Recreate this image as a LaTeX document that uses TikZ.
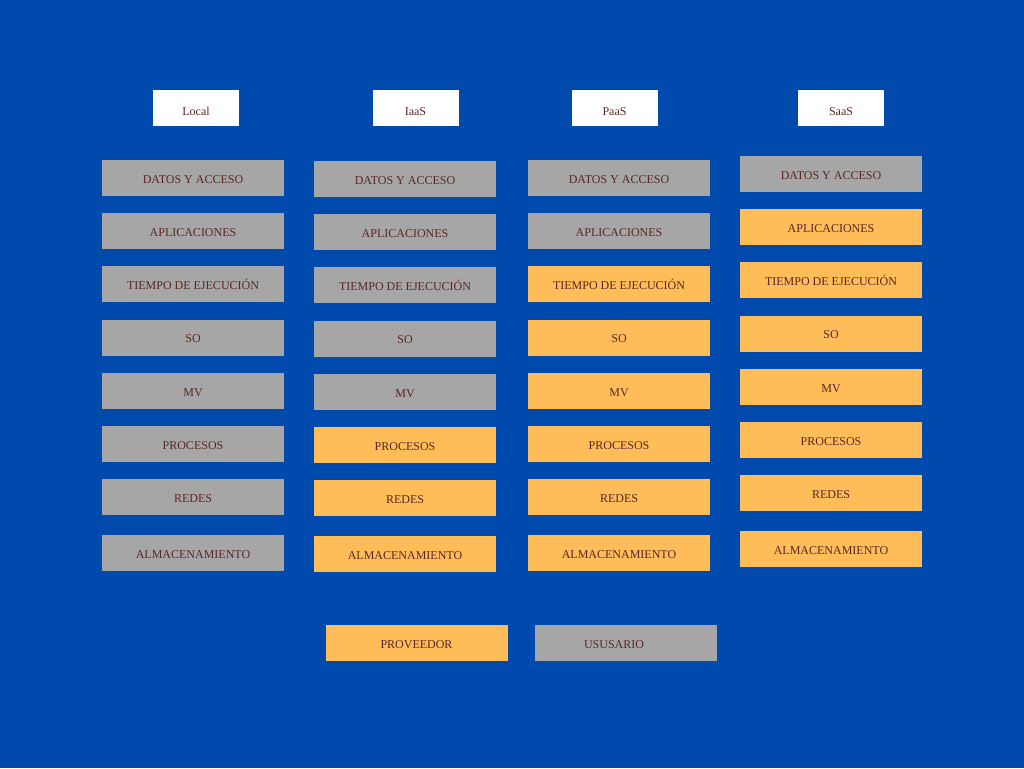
\documentclass[tikz,border=0pt]{standalone}
\usepackage{fontspec}
\setmainfont{Liberation Serif}
\definecolor{bgblue}{HTML}{004AAD}
\definecolor{cellgray}{HTML}{A6A6A6}
\definecolor{cellorange}{HTML}{FFBD59}
\definecolor{inkred}{HTML}{5A2626}
\tikzset{
  cell/.style={rectangle, inner sep=0pt, minimum width=182pt, minimum height=36pt,
    text height=10pt, text depth=0pt,
    text=inkred, font=\fontsize{12}{14}\selectfont},
  usr/.style={cell, fill=cellgray},
  prov/.style={cell, fill=cellorange},
  head/.style={rectangle, inner sep=0pt, minimum width=86pt, minimum height=36pt,
    text height=14.5pt, text depth=0pt,
    fill=white, text=inkred, font=\fontsize{12}{14}\selectfont},
}
% \cellat{name}{x}{y}{style}{label}
\newcommand{\cellat}[5]{\node[#4] (#1) at (#2,#3) {#5};}
\begin{document}
\begin{tikzpicture}[x=1pt,y=-1pt]
\fill[bgblue] (0,0) rectangle (1024,768);
\useasboundingbox (0,0) rectangle (1024,768);

% column headers
\node[head] (hLocal) at (196,108) {Local};
\node[head] (hIaaS) at (415.5,108) {IaaS};
\node[head] (hPaaS) at (614.5,108) {PaaS};
\node[head] (hSaaS) at (841,108) {SaaS};

% Local
\cellat{l1}{193}{178}{usr}{DATOS Y ACCESO}
\cellat{l2}{193}{231}{usr}{APLICACIONES}
\cellat{l3}{193}{284}{usr}{TIEMPO DE EJECUCIÓN}
\cellat{l4}{193}{337.5}{usr}{SO}
\cellat{l5}{193}{391}{usr}{MV}
\cellat{l6}{193}{444}{usr}{PROCESOS}
\cellat{l7}{193}{497}{usr}{REDES}
\cellat{l8}{193}{553}{usr}{ALMACENAMIENTO}

% IaaS
\cellat{i1}{405}{179}{usr}{DATOS Y ACCESO}
\cellat{i2}{405}{232}{usr}{APLICACIONES}
\cellat{i3}{405}{285}{usr}{TIEMPO DE EJECUCIÓN}
\cellat{i4}{405}{338.5}{usr}{SO}
\cellat{i5}{405}{392}{usr}{MV}
\cellat{i6}{405}{445}{prov}{PROCESOS}
\cellat{i7}{405}{498}{prov}{REDES}
\cellat{i8}{405}{554}{prov}{ALMACENAMIENTO}

% PaaS
\cellat{p1}{619}{178}{usr}{DATOS Y ACCESO}
\cellat{p2}{619}{231}{usr}{APLICACIONES}
\cellat{p3}{619}{284}{prov}{TIEMPO DE EJECUCIÓN}
\cellat{p4}{619}{337.5}{prov}{SO}
\cellat{p5}{619}{391}{prov}{MV}
\cellat{p6}{619}{444}{prov}{PROCESOS}
\cellat{p7}{619}{497}{prov}{REDES}
\cellat{p8}{619}{553}{prov}{ALMACENAMIENTO}

% SaaS
\cellat{s1}{831}{174}{usr}{DATOS Y ACCESO}
\cellat{s2}{831}{227}{prov}{APLICACIONES}
\cellat{s3}{831}{280}{prov}{TIEMPO DE EJECUCIÓN}
\cellat{s4}{831}{333.5}{prov}{SO}
\cellat{s5}{831}{387}{prov}{MV}
\cellat{s6}{831}{440}{prov}{PROCESOS}
\cellat{s7}{831}{493}{prov}{REDES}
\cellat{s8}{831}{549}{prov}{ALMACENAMIENTO}

% legend
\cellat{keyProv}{416.5}{643}{prov}{PROVEEDOR}
\cellat{keyUser}{626}{643}{usr}{USUSARIO\hspace*{24pt}}
\end{tikzpicture}
\end{document}
